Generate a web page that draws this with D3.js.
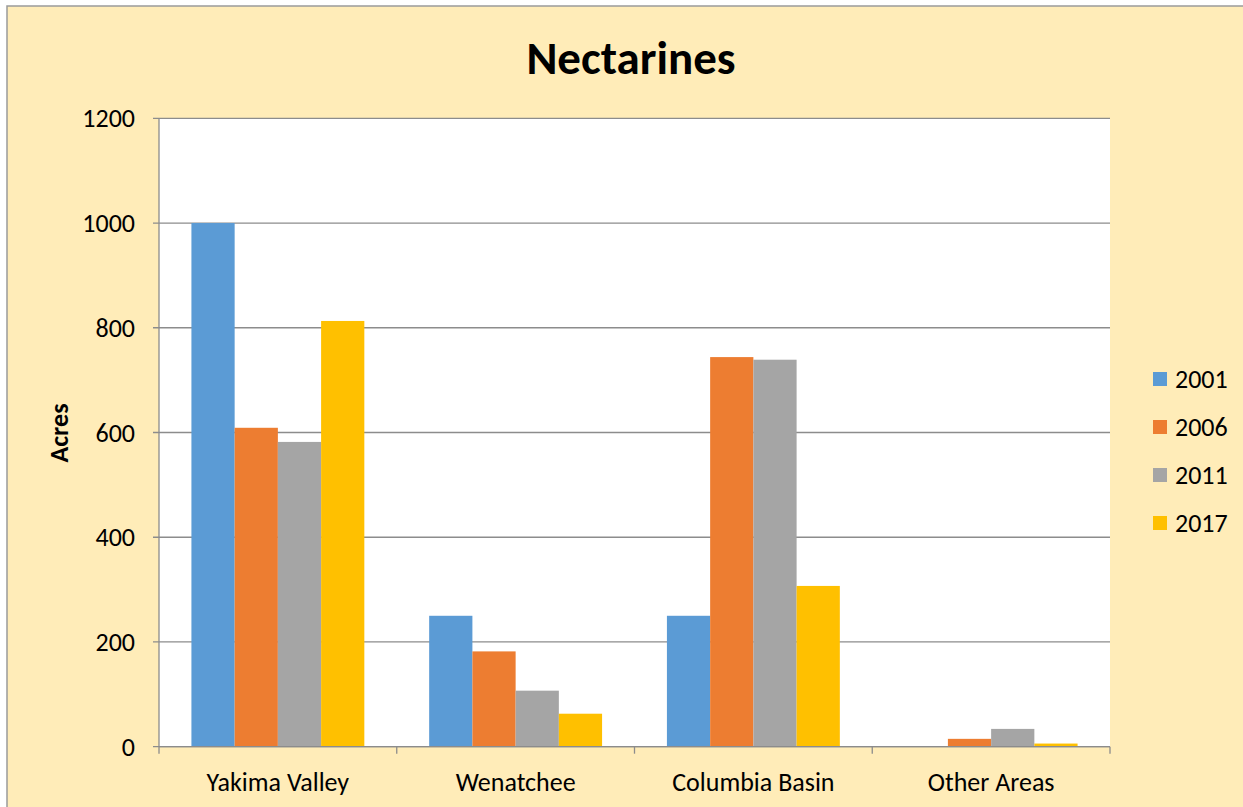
<!DOCTYPE html>
<html><head><meta charset="utf-8">
<script src="https://cdn.jsdelivr.net/npm/d3@7"></script>
<style>body{margin:0;background:#fff}svg{display:block}</style>
</head><body><svg id="c" width="1243" height="807"></svg>
<script>
const categories = ["Yakima Valley", "Wenatchee", "Columbia Basin", "Other Areas"];
const seriesNames = ["2001", "2006", "2011", "2017"];
const v2001 = [1000, 250, 250, 0];
const v2006 = [609, 182, 744, 15];
const v2011 = [582, 107, 739, 34];
const v2017 = [813, 63, 307, 6];
const colors = ["#5B9BD5", "#ED7D31", "#A5A5A5", "#FFC000"];
const yTicks = [0, 200, 400, 600, 800, 1000, 1200];

const values = [v2001, v2006, v2011, v2017];
const svg = d3.select("#c");
const font = "Carlito, Calibri, 'Open Sans', sans-serif";

svg.append("rect").attr("x", 0).attr("y", 0).attr("width", 1243).attr("height", 807).attr("fill", "#fff");
svg.append("rect").attr("x", 7).attr("y", 6).attr("width", 1300).attr("height", 900)
  .attr("fill", "#FFECB8").attr("stroke", "#9a9a9a").attr("stroke-width", 1.5);

const L = 159, R = 1110, T = 118.3, B = 746.7;
const x0 = d3.scaleBand().domain(categories).range([L, R]).paddingInner(0).paddingOuter(0);
const bw = x0.bandwidth() / 5.5;
const x1 = d3.scaleBand().domain(seriesNames).range([0, bw * 4]);
const y = d3.scaleLinear().domain([0, 1200]).range([B, T]);

svg.append("rect").attr("x", L).attr("y", T).attr("width", R - L).attr("height", B - T).attr("fill", "#fff");

// gridlines
svg.append("g").selectAll("line").data(yTicks).join("line")
  .attr("x1", L - 6).attr("x2", R).attr("y1", d => y(d)).attr("y2", d => y(d))
  .attr("stroke", "#8c8c8c").attr("stroke-width", 1.3);

// bars
const g = svg.append("g");
categories.forEach((c, ci) => {
  seriesNames.forEach((s, si) => {
    const val = values[si][ci];
    if (val <= 0) return;
    g.append("rect")
      .attr("x", x0(c) + bw * 0.75 + x1(s))
      .attr("y", y(val))
      .attr("width", x1.bandwidth())
      .attr("height", B - y(val))
      .attr("fill", colors[si]);
  });
});

// axes lines
svg.append("line").attr("x1", L).attr("x2", L).attr("y1", T).attr("y2", B)
  .attr("stroke", "#8c8c8c").attr("stroke-width", 1.3);
svg.append("line").attr("x1", L).attr("x2", R).attr("y1", B).attr("y2", B)
  .attr("stroke", "#8c8c8c").attr("stroke-width", 1.3);
const xt = categories.map(c => x0(c)).concat([R]);
svg.append("g").selectAll("line").data(xt).join("line")
  .attr("x1", d => d).attr("x2", d => d).attr("y1", B).attr("y2", B + 7)
  .attr("stroke", "#8c8c8c").attr("stroke-width", 1.3);

// y tick labels
svg.append("g").selectAll("text").data(yTicks).join("text")
  .attr("x", 135).attr("y", d => y(d)).attr("dy", "0.35em")
  .attr("text-anchor", "end").attr("font-family", font).attr("font-size", 26).attr("fill", "#000")
  .text(d => d);

// x labels
svg.append("g").selectAll("text").data(categories).join("text")
  .attr("x", d => x0(d) + x0.bandwidth() / 2).attr("y", 782).attr("dy", "0.35em")
  .attr("text-anchor", "middle").attr("font-family", font).attr("font-size", 26).attr("fill", "#000")
  .text(d => d);

// title
svg.append("text").attr("x", 631).attr("y", 58).attr("dy", "0.35em").attr("text-anchor", "middle")
  .attr("font-family", font).attr("font-size", 47).attr("font-weight", "bold").text("Nectarines");

// y axis title
svg.append("text").attr("transform", "translate(59,433) rotate(-90)").attr("dy", "0.35em")
  .attr("text-anchor", "middle").attr("font-family", font).attr("font-size", 26).attr("font-weight", "bold")
  .text("Acres");

// legend
const lg = svg.append("g");
seriesNames.forEach((s, i) => {
  const cy = 379 + i * 48;
  lg.append("rect").attr("x", 1153).attr("y", cy - 7).attr("width", 14).attr("height", 14).attr("fill", colors[i]);
  lg.append("text").attr("x", 1175).attr("y", cy).attr("dy", "0.35em").attr("font-family", font)
    .attr("font-size", 26).text(s);
});
</script></body></html>
